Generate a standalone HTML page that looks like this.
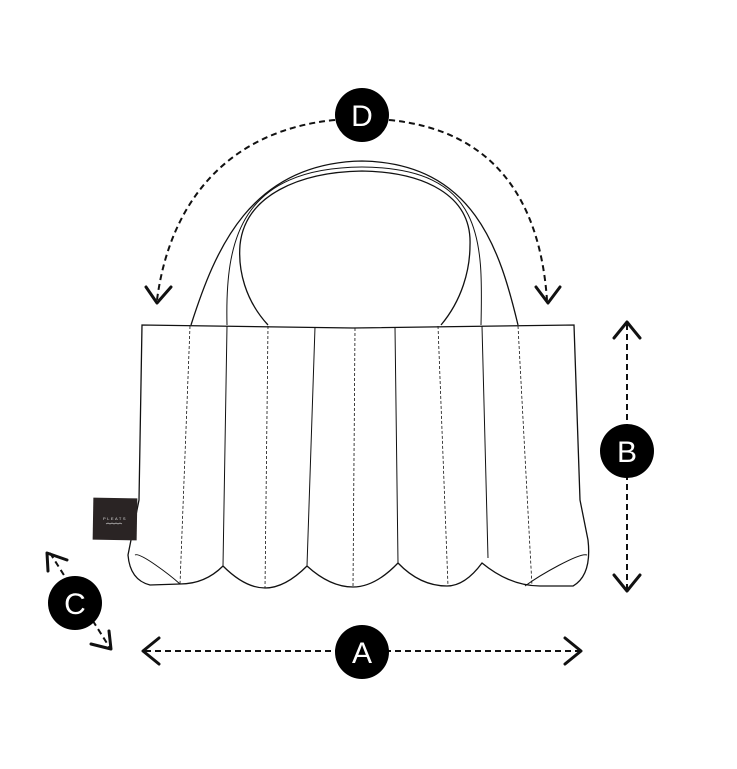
<!DOCTYPE html>
<html><head><style>body{margin:0;background:#fff}svg{display:block}</style></head><body>
<svg width="737" height="769" viewBox="0 0 737 769" xmlns="http://www.w3.org/2000/svg">
<rect width="737" height="769" fill="#fff"/>
<g fill="none" stroke="#111" stroke-width="1.3">
<path d="M191,325 C215,250 250,163 362,161 C474,163 500,250 518,325"/>
<path d="M227,325 C225,240 240,168 362,167 C484,168 483,240 481,325" stroke-width="1"/>
<path d="M268,325 C245,300 238,270 240,245 C245,195 300,172 362,171 C424,172 472,195 470,245 C470,270 462,300 441,325"/>
<path d="M142,325 L353,328 L574,325 L580,500 L588,540 Q592,575 573,586 L540,586 Q510,586 482,563 Q465,586 447,586 Q420,586 398,563 Q375,587 353,587 Q330,587 307,566 Q285,588 265,588 Q245,588 223,566 Q205,584 180,584 L150,585 Q130,580 128,555 L139,500 Z"/>
<path d="M135,555 C140,552 170,575 180,584 M587,555 C580,552 540,575 525,586" stroke-width="1"/>
<path d="M227,326 L223,566 M315,327 L307,566 M395,327 L398,563 M482,326 L488,558" stroke-width="1"/>
<path d="M190,326 L180,584 M268,326 L265,588 M355,328 L353,587 M438,326 L448,586 M518,326 L532,586" stroke-width="0.8" stroke-dasharray="3,2"/>
</g>
<rect x="93" y="498" width="44" height="42" fill="#2a2424" transform="rotate(1 115 519)"/>
<text x="115" y="520" font-family="Liberation Sans, sans-serif" font-size="4" fill="#ddd" text-anchor="middle" letter-spacing="1.5">PLEATS</text>
<path d="M106,524 l2,-1 l2,1 l2,-1 l2,1 l2,-1 l2,1 l2,-1 l2,1" stroke="#ddd" stroke-width="0.6" fill="none"/>
<g fill="none" stroke="#111" stroke-width="2" stroke-dasharray="6,4">
<path d="M335,120 C230,130 170,200 157,300"/>
<path d="M389,120 C494,130 540,200 547,300"/>
<path d="M627,324 L627,590"/>
<path d="M145,651 L580,651"/>
<path d="M50,553 L110,648"/>
</g>
<g fill="none" stroke="#111" stroke-width="3" stroke-linecap="round" stroke-linejoin="round">
<path d="M146,287 L157,303 L171,287"/>
<path d="M536,287 L548,303 L560,287"/>
<path d="M614,338 L627,322 L640,338"/>
<path d="M614,575 L627,591 L640,575"/>
<path d="M159,638 L143,651 L159,664"/>
<path d="M565,638 L581,651 L565,664"/>
<path d="M48,571 L47,553 L67,560"/>
<path d="M91,644 L111,649 L109,631"/>
</g>
<g font-family="Liberation Sans, sans-serif" font-size="30" fill="#fff" text-anchor="middle">
<circle cx="362" cy="115" r="27" fill="#000"/><text x="362" y="126">D</text>
<circle cx="627" cy="451" r="27" fill="#000"/><text x="627" y="462">B</text>
<circle cx="362" cy="652" r="27" fill="#000"/><text x="362" y="663">A</text>
<circle cx="75" cy="603" r="27" fill="#000"/><text x="75" y="614">C</text>
</g>
</svg>
</body></html>
